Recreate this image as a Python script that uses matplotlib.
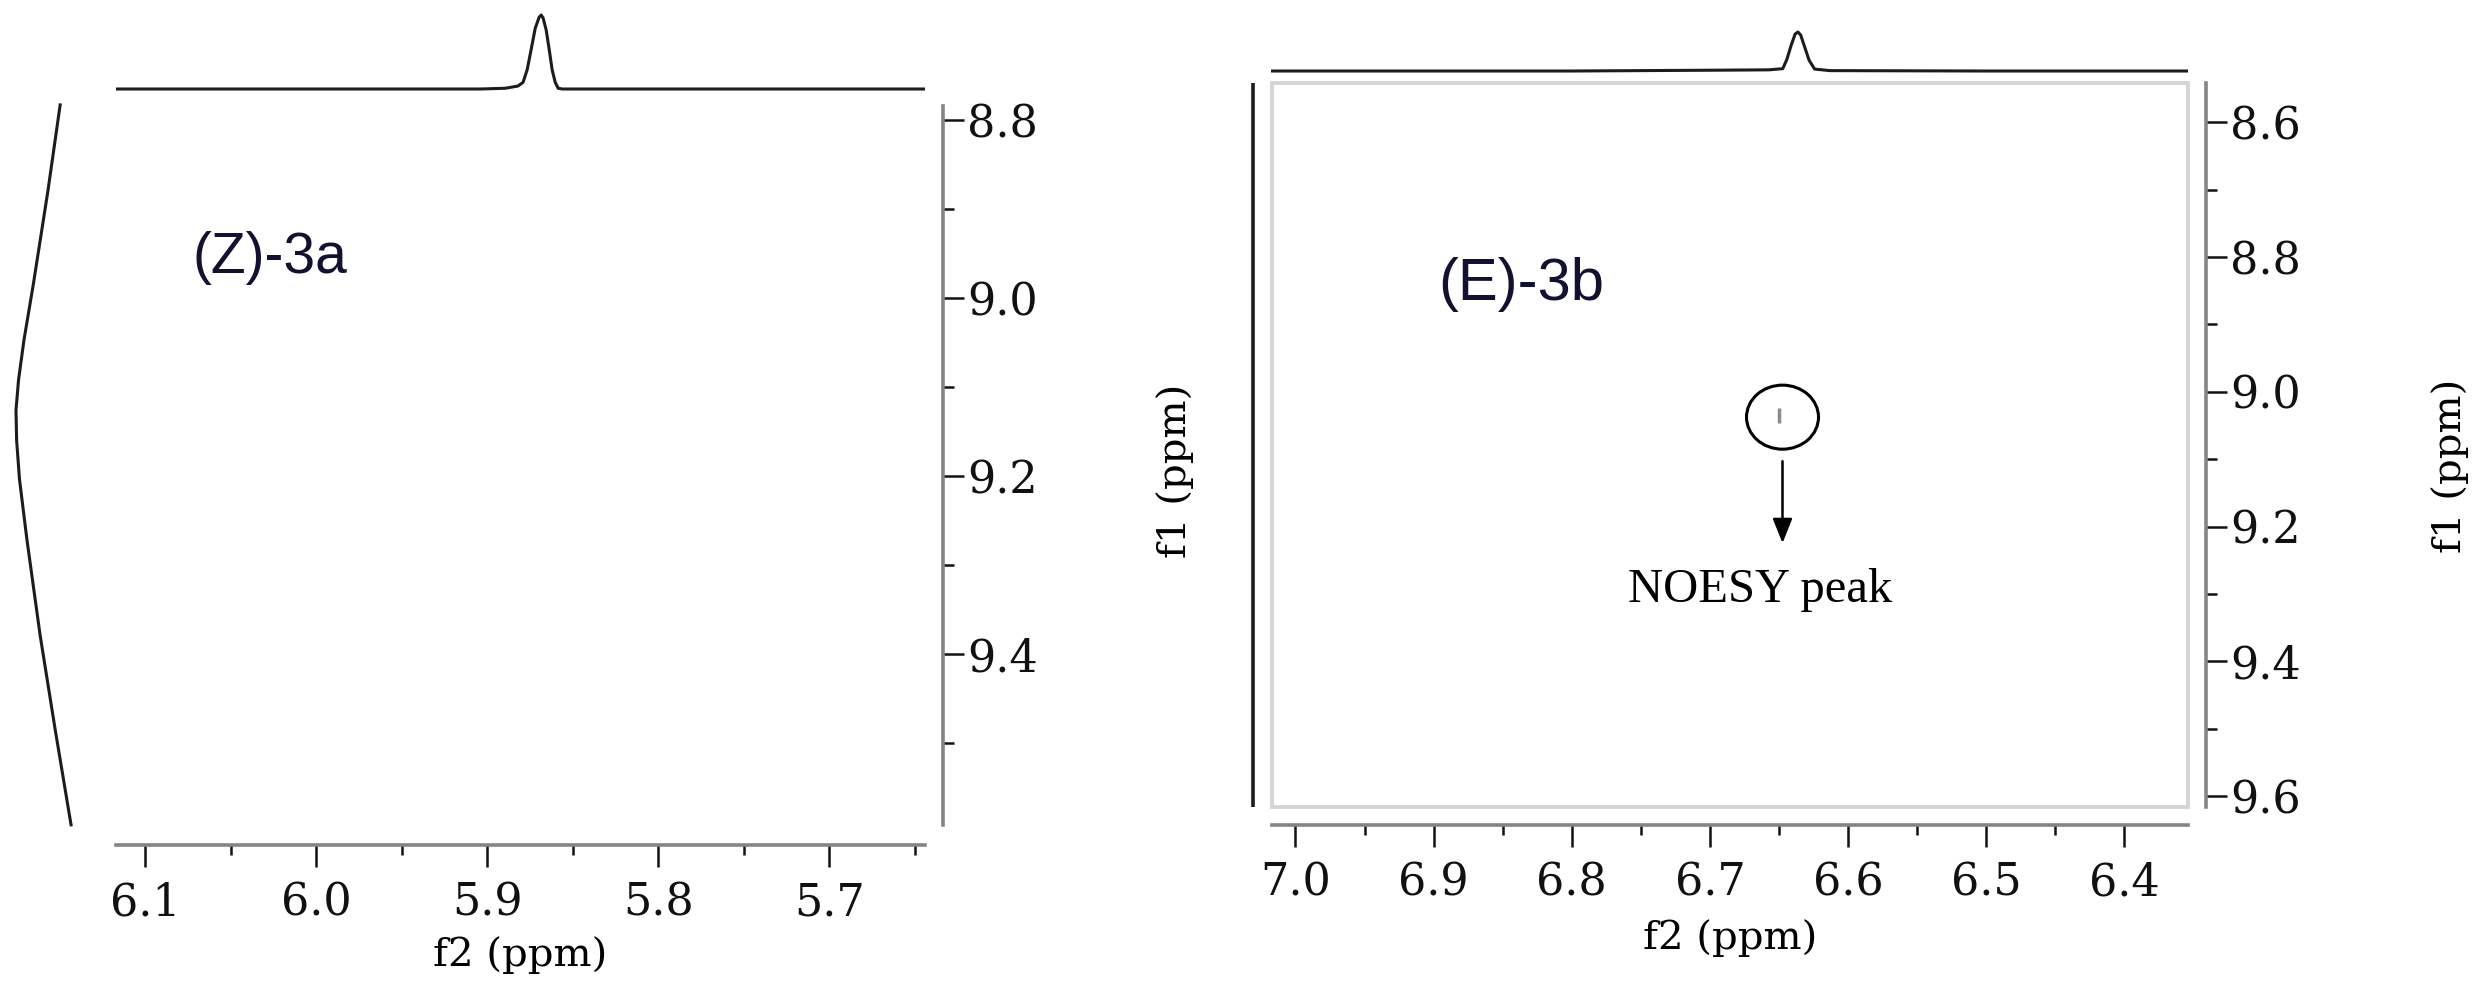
import matplotlib
matplotlib.use('Agg')
import matplotlib.pyplot as plt
from matplotlib.patches import Rectangle, Ellipse
from matplotlib.ticker import MultipleLocator, FormatStrFormatter

W, H = 2484, 983
DPI = 100

# ---------------- data ----------------
# (Z)-3a : f2 1D projection (ppm, relative intensity)
z_f2_ppm = [6.117, 5.950, 5.9040, 5.8895, 5.8820, 5.8790, 5.8766, 5.8743, 5.8719,
            5.8696, 5.8684, 5.8673, 5.8655, 5.8637, 5.8620, 5.8602, 5.8585, 5.8560,
            5.750, 5.644]
z_f2_int = [0.0, 0.0, 0.0, 0.01, 0.04, 0.09, 0.26, 0.53, 0.82,
            0.97, 1.00, 0.96, 0.80, 0.53, 0.26, 0.09, 0.01, 0.0,
            0.0, 0.0]
# (Z)-3a : f1 1D projection (ppm, relative intensity)
z_f1_ppm = [8.783, 8.879, 8.985, 9.047, 9.092, 9.126, 9.160, 9.204, 9.271, 9.378, 9.484, 9.592]
z_f1_int = [0.31, 0.50, 0.73, 0.875, 0.96, 1.00, 0.99, 0.945, 0.83, 0.625, 0.39, 0.14]

# (E)-3b : f2 1D projection
e_f2_ppm = [7.017, 6.800, 6.700, 6.657, 6.647, 6.644, 6.641, 6.638, 6.636,
            6.634, 6.631, 6.628, 6.624, 6.613, 6.500, 6.354]
e_f2_int = [0.0, 0.0, 0.02, 0.03, 0.06, 0.30, 0.65, 0.95, 1.00,
            0.92, 0.60, 0.28, 0.05, 0.01, 0.0, 0.0]
# (E)-3b : f1 1D projection (flat)
e_f1_ppm = [8.542, 9.616]
e_f1_int = [0.0, 0.0]

# NOESY cross peak (f2, f1 extent) and its marking circle
noesy_f2 = [6.650, 6.650]
noesy_f1 = [9.024, 9.046]
circle_center = (6.6475, 9.0377)
circle_size = (0.0521, 0.095)
arrow_f1 = (9.103, 9.2246)

# axis ranges
z_xlim = (6.117, 5.644)
z_ylim = (9.592, 8.784)
e_xlim = (7.017, 6.354)
e_ylim = (9.616, 8.542)

panel_labels = ["(Z)-3a", "(E)-3b"]
annot_text = "NOESY peak"
f2_label = "f2 (ppm)"
f1_label = "f1 (ppm)"

# ---------------- figure ----------------
fig = plt.figure(figsize=(W / DPI, H / DPI), dpi=DPI)
fig.patch.set_facecolor('white')


def px_axes(x0, y0, x1, y1):
    return fig.add_axes([x0 / W, 1 - y1 / H, (x1 - x0) / W, (y1 - y0) / H])


PT = 72.0 / DPI  # points per pixel
SPEC_C = '#1c1c1c'
SPINE_C = '#858585'
TICK_FONT = dict(family='DejaVu Serif', size=32)


def style_axes(ax, out_b, out_r, xmaj, xmin, ymaj, ymin):
    ax.set_facecolor('none')
    for s in ('top', 'left'):
        ax.spines[s].set_visible(False)
    for s, o in (('bottom', out_b), ('right', out_r)):
        ax.spines[s].set_position(('outward', o * PT))
        ax.spines[s].set_color(SPINE_C)
        ax.spines[s].set_linewidth(2.6)
    ax.yaxis.tick_right()
    ax.xaxis.tick_bottom()
    ax.xaxis.set_major_locator(MultipleLocator(xmaj))
    ax.xaxis.set_minor_locator(MultipleLocator(xmin))
    ax.yaxis.set_major_locator(MultipleLocator(ymaj))
    ax.yaxis.set_minor_locator(MultipleLocator(ymin))
    ax.xaxis.set_major_formatter(FormatStrFormatter('%.1f'))
    ax.yaxis.set_major_formatter(FormatStrFormatter('%.1f'))
    ax.tick_params(axis='x', which='major', direction='out', length=22 * PT,
                   width=1.8, pad=10, colors='#111111')
    ax.tick_params(axis='x', which='minor', direction='out', length=10 * PT,
                   width=1.8, colors='#111111')
    ax.tick_params(axis='y', which='major', direction='out', length=21 * PT,
                   width=1.8, pad=2, colors='#111111')
    ax.tick_params(axis='y', which='minor', direction='out', length=11 * PT,
                   width=1.8, colors='#111111')
    for lab in ax.get_xticklabels() + ax.get_yticklabels():
        lab.set_fontfamily(TICK_FONT['family'])
        lab.set_fontsize(TICK_FONT['size'])


# ---------- left panel (Z)-3a ----------
axL = px_axes(116, 106, 925, 825)
axL.set_xlim(*z_xlim)
axL.set_ylim(*z_ylim)
style_axes(axL, 20, 18, 0.1, 0.05, 0.2, 0.1)
axL.set_xlabel(f2_label, family='DejaVu Serif', size=29, va='center')
axL.xaxis.set_label_coords(0.5, (825 - 955) / 719)
axL.yaxis.set_label_position('right')
axL.set_ylabel(f1_label, family='DejaVu Serif', size=29, va='center', ha='center')
axL.yaxis.set_label_coords((1175 - 116) / 809, (825 - 471) / 719)

axLt = px_axes(116, 5, 925, 99)
axLt.set_xlim(*z_xlim)
axLt.set_ylim(-0.135, 1.135)
axLt.axis('off')
axLt.plot(z_f2_ppm, z_f2_int, color=SPEC_C, lw=2.2)

axLp = px_axes(6, 100, 90, 830)
axLp.set_xlim(1.156, -0.156)
axLp.set_ylim(9.5978, 8.7775)
axLp.axis('off')
axLp.plot(z_f1_int, z_f1_ppm, color=SPEC_C, lw=2.2)

fig.text(192 / W, 1 - 258 / H, panel_labels[0], family='Liberation Sans', size=41,
         color='#121230', ha='left', va='center')

# ---------- right panel (E)-3b ----------
axR = px_axes(1272, 83, 2188, 807)
axR.set_xlim(*e_xlim)
axR.set_ylim(*e_ylim)
style_axes(axR, 18, 18, 0.1, 0.05, 0.2, 0.1)
axR.add_patch(Rectangle((0, 0), 1, 1, transform=axR.transAxes, fill=False,
                        ec='#d4d4d4', lw=2.8, clip_on=False))
axR.set_xlabel(f2_label, family='DejaVu Serif', size=29, va='center')
axR.xaxis.set_label_coords(0.5, (807 - 938) / 724)
axR.yaxis.set_label_position('right')
axR.set_ylabel(f1_label, family='DejaVu Serif', size=29, va='center', ha='center')
axR.yaxis.set_label_coords((2450 - 1272) / 916, (807 - 466) / 724)

axR.plot(noesy_f2, noesy_f1, color='#8c8c8c', lw=2.5, solid_capstyle='butt')
axR.add_patch(Ellipse(circle_center, circle_size[0], circle_size[1], fill=False,
                      ec='black', lw=2.2))
axR.annotate('', xy=(circle_center[0], arrow_f1[1]), xytext=(circle_center[0], arrow_f1[0]),
             arrowprops=dict(arrowstyle='-|>,head_length=0.5,head_width=0.2',
                             color='black', lw=1.8, mutation_scale=30,
                             shrinkA=0, shrinkB=0))
fig.text(1760 / W, 1 - 602 / H, annot_text, family='Liberation Serif', size=35,
         color='black', ha='center', va='baseline')

axRt = px_axes(1271, 22, 2188, 81)
axRt.set_xlim(*e_xlim)
axRt.set_ylim(-0.256, 1.256)
axRt.axis('off')
axRt.plot(e_f2_ppm, e_f2_int, color=SPEC_C, lw=2.2)

axRp = px_axes(1243, 83, 1263, 807)
axRp.set_xlim(1, -1)
axRp.set_ylim(*e_ylim)
axRp.axis('off')
axRp.plot(e_f1_int, e_f1_ppm, color=SPEC_C, lw=2.6)

fig.text(1438 / W, 1 - 285 / H, panel_labels[1], family='Liberation Sans', size=43,
         color='#121230', ha='left', va='center')

fig.savefig('out.png', dpi=DPI, facecolor='white')
